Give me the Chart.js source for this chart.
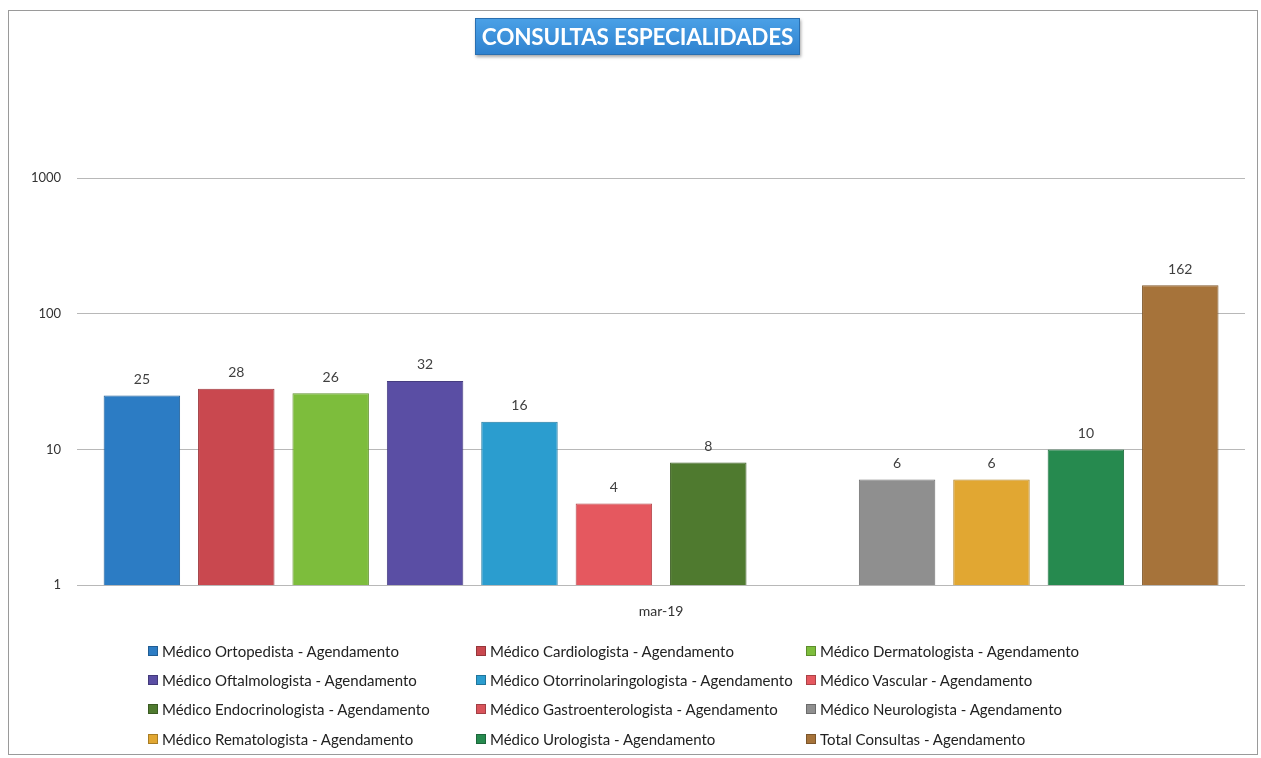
<!DOCTYPE html>
<html>
<head>
<meta charset="utf-8">
<script src="https://cdn.jsdelivr.net/npm/chart.js@4/dist/chart.umd.min.js"></script>
<style>
  html, body { margin:0; padding:0; background:#fff; }
  #wrap { position:relative; width:1261px; height:758px; overflow:hidden; font-family: Lato, "Open Sans", sans-serif; }
  #frame { position:absolute; left:8px; top:10px; width:1250px; height:745px; border:1px solid #9a9a9a; box-sizing:border-box; pointer-events:none; }
  #title { position:absolute; left:475px; top:18px; width:325px; height:37px; box-sizing:border-box;
           background:linear-gradient(#4aa0e6, #2f82cf); border:1px solid #2a6fb0;
           box-shadow: 1px 2px 3px rgba(0,0,0,0.35);
           color:#fff; font-weight:bold; font-size:22.5px; line-height:35px; text-align:center; white-space:nowrap; letter-spacing:-0.2px; }
  #legend { position:absolute; left:148px; top:636px; display:grid; grid-template-columns: 328px 330px 300px; grid-auto-rows:29.3px; font-size:15px; color:#222; }
  .li { display:flex; align-items:center; white-space:nowrap; }
  .sw { width:8px; height:8px; margin-right:4px; border:1px solid rgba(0,0,0,0.25); }
  canvas { position:absolute; left:0; top:0; }
</style>
</head>
<body>
<div id="wrap">
  <canvas id="c" width="1261" height="758"></canvas>
  <div id="title">CONSULTAS ESPECIALIDADES</div>
  <div id="legend"></div>
  <div id="frame"></div>
</div>
<script>
const categories = ['mar-19'];
const seriesNames = [
  'Médico Ortopedista - Agendamento',
  'Médico Cardiologista - Agendamento',
  'Médico Dermatologista - Agendamento',
  'Médico Oftalmologista - Agendamento',
  'Médico Otorrinolaringologista - Agendamento',
  'Médico Vascular - Agendamento',
  'Médico Endocrinologista - Agendamento',
  'Médico Gastroenterologista - Agendamento',
  'Médico Neurologista - Agendamento',
  'Médico Rematologista - Agendamento',
  'Médico Urologista - Agendamento',
  'Total Consultas - Agendamento'
];
const seriesValues = [25, 28, 26, 32, 16, 4, 8, null, 6, 6, 10, 162];
const seriesColors = ['#2c7cc4', '#c9484f', '#7dbd3c', '#5a4ea4', '#2b9dcf', '#e5585f',
                      '#4f7a2f', '#d9545b', '#8f8f8f', '#e1a732', '#268a4f', '#a6733a'];
const yTicks = [1, 10, 100, 1000];

function darker(hex, f) {
  const n = parseInt(hex.slice(1), 16);
  const r = Math.round(((n >> 16) & 255) * f), g = Math.round(((n >> 8) & 255) * f), b = Math.round((n & 255) * f);
  return `rgb(${r},${g},${b})`;
}

const datasets = seriesNames.map((name, i) => ({
  label: name,
  data: [seriesValues[i]],
  backgroundColor: seriesColors[i],
  borderColor: darker(seriesColors[i], 0.78),
  borderWidth: 1,
  categoryPercentage: 0.97,
  barPercentage: 0.81
}));

const valueLabels = {
  id: 'valueLabels',
  afterDatasetsDraw(chart) {
    const ctx = chart.ctx;
    ctx.save();
    ctx.font = '14px Lato, "Open Sans", sans-serif';
    ctx.fillStyle = '#404040';
    ctx.textAlign = 'center';
    ctx.textBaseline = 'bottom';
    chart.data.datasets.forEach((ds, i) => {
      const meta = chart.getDatasetMeta(i);
      meta.data.forEach((bar, j) => {
        const v = ds.data[j];
        if (v == null) return;
        ctx.fillText(String(v), bar.x, bar.y - 9);
      });
    });
    ctx.restore();
  }
};

new Chart(document.getElementById('c'), {
  type: 'bar',
  data: { labels: categories, datasets },
  options: {
    responsive: false,
    animation: false,
    layout: { padding: { top: 178, right: 16, bottom: 120, left: 15 } },
    plugins: { legend: { display: false }, title: { display: false }, tooltip: { enabled: false } },
    scales: {
      x: {
        grid: { display: false, drawTicks: false },
        border: { display: false },
        ticks: { color: '#333', font: { size: 14, family: 'Lato, "Open Sans", sans-serif' }, padding: 18 }
      },
      y: {
        type: 'logarithmic',
        min: 1, max: 1000,
        afterBuildTicks(scale) { scale.ticks = yTicks.map(v => ({ value: v })); },
        grid: { color: '#b8b8b8', drawTicks: false, lineWidth: 1 },
        border: { display: false },
        ticks: { color: '#333', font: { size: 13, family: 'Lato, "Open Sans", sans-serif' }, padding: 16,
                 callback: v => String(v) }
      }
    }
  },
  plugins: [valueLabels]
});

const legend = document.getElementById('legend');
seriesNames.forEach((name, i) => {
  const d = document.createElement('div');
  d.className = 'li';
  d.innerHTML = `<span class="sw" style="background:${seriesColors[i]}"></span><span></span>`;
  d.lastChild.textContent = name;
  legend.appendChild(d);
});
</script>
</body>
</html>
